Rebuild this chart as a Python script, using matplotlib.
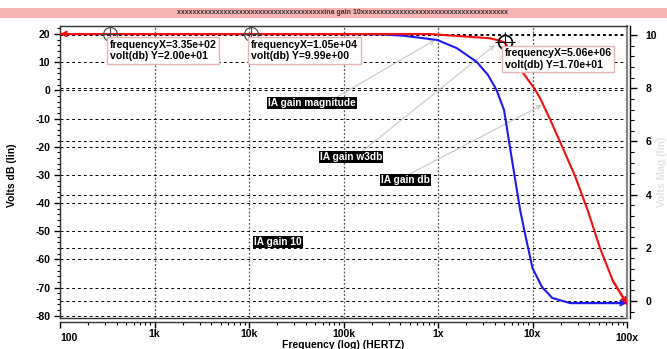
import matplotlib
matplotlib.use('Agg')
import matplotlib.pyplot as plt
import matplotlib.patches as mpatches
from matplotlib.ticker import MultipleLocator, LogLocator, NullFormatter

plt.rcParams['font.family'] = ['Liberation Sans', 'DejaVu Sans']
plt.rcParams['font.weight'] = 'bold'

# ---- data ----
blue_freq = [1e2, 1e5, 2.45e5, 4.27e5, 9.8e5, 1.58e6, 2.57e6, 3.39e6, 4.17e6, 5.0e6,
             6.0e6, 7.4e6, 8.3e6, 1.0e7, 1.26e7, 1.62e7, 2.5e7, 1e8]
blue_db = [20, 20, 19.9, 19.4, 17.9, 15.0, 10.1, 5.4, 0.1, -7.0,
           -23.7, -42.5, -50.6, -63.1, -69.8, -73.7, -75.5, -75.5]

red_freq = [1e2, 8.2e5, 3.55e6, 4.53e6, 5.06e6, 5.78e6, 7.94e6, 1.06e7, 1.2e7, 1.53e7,
            2.05e7, 2.82e7, 3.86e7, 5.18e7, 7.11e7, 1e8]
red_db = [20, 20, 18.5, 17.6, 17.0, 14.3, 6.2, 0.4, -2.7, -10.2,
          -19.8, -30.4, -42.8, -56.0, -67.7, -75.8]

marker_freq = [3.35e2, 1.05e4, 5.06e6]
marker_db = [20, 20, 17.0]
marker_text = ['frequencyX=3.35e+02\nvolt(db) Y=2.00e+01',
               'frequencyX=1.05e+04\nvolt(db) Y=9.99e+00',
               'frequencyX=5.06e+06\nvolt(db) Y=1.70e+01']

xticks = [1e2, 1e3, 1e4, 1e5, 1e6, 1e7, 1e8]
xticklabels = ['100', '1k', '10k', '100k', '1x', '10x', '100x']
yticks_left = list(range(-80, 21, 10))
yticks_right = [0, 2, 4, 6, 8, 10]

# curve labels: (text, label position, arrow tail, arrow head)
labels = [
    ('IA gain magnitude', (4.6e4, -4.5), (7.55e4, -3.4), (9.3e5, 17.9)),
    ('IA gain w3db', (1.2e5, -23.7), (1.5e5, -22.2), (4.0e6, 16.1)),
    ('IA gain db', (4.5e5, -31.8), (4.8e5, -30.0), (1.26e7, -5.2)),
    ('IA gain 10', (2.03e4, -53.8), None, None),
]

fig = plt.figure(figsize=(6.67, 3.49), dpi=100)
W, H = 667, 349
ax = fig.add_axes([60 / W, 1 - 318 / H, 567 / W, 292 / H])
ax2 = ax.twinx()
ax.set_zorder(ax2.get_zorder() + 1)
ax.patch.set_visible(False)

# title bar
fig.patches.append(mpatches.Rectangle((0, 1 - 18 / H), 1, 10 / H, transform=fig.transFigure,
                                      fc='#f5b3b3', ec='none'))
fig.text(0.514, 1 - 13 / H, 'x' * 38 + 'ina gain 10' + 'x' * 38, fontsize=5,
         ha='center', va='center', color='#333333')

ax.set_xscale('log')
ax.set_xlim(1e2, 1e8)
ax.set_ylim(-80.8, 22.85)
ax2.set_ylim(-0.64, 10.34)

# curves
ax.plot(blue_freq, blue_db, color='#1c1cf0', lw=1.5, zorder=3)
ax.plot(red_freq, red_db, color='#f01010', lw=1.5, zorder=4)
arrow_kw = dict(arrowstyle='->', lw=1.5, shrinkA=0, shrinkB=0, mutation_scale=8)
ax.annotate('', xy=(blue_freq[-1], blue_db[-1]), xytext=(blue_freq[-2], blue_db[-2]),
            arrowprops=dict(color='#1c1cf0', **arrow_kw), zorder=3, annotation_clip=False)
ax.annotate('', xy=(red_freq[-1], red_db[-1]), xytext=(red_freq[-2], red_db[-2]),
            arrowprops=dict(color='#f01010', **arrow_kw), zorder=4, annotation_clip=False)
ax.annotate('', xy=(red_freq[0], red_db[0]), xytext=(red_freq[1], red_db[1]),
            arrowprops=dict(color='#f01010', **arrow_kw), zorder=4, annotation_clip=False)

# markers
for i, (f, d, t) in enumerate(zip(marker_freq, marker_db, marker_text)):
    c = 'black' if i == 2 else '#444444'
    ax.plot(f, d, 'o', ms=10, mfc='none', mec=c, mew=1.2 if i == 2 else 0.8, zorder=6)
    ax.plot(f, d, '+', ms=15, mec=c, mew=0.8, zorder=6)
    ax.annotate(t, xy=(f, d), xytext=(0, -6), textcoords='offset pixels',
                ha='left', va='top', fontsize=7.6, linespacing=1.15, zorder=7,
                bbox=dict(boxstyle='square,pad=0.25', fc='white', ec='#e6b4b4', lw=1))

# curve labels
for text, pos, tail, head in labels:
    ax.text(pos[0], pos[1], text, color='white', fontsize=7.3, ha='center', va='center', zorder=8,
            bbox=dict(boxstyle='square,pad=0.1', fc='black', ec='none'))
    if head is not None:
        ax.annotate('', xy=head, xytext=tail, zorder=2,
                    arrowprops=dict(arrowstyle='->', color='#c8c8c8', lw=0.8,
                                    shrinkA=0, shrinkB=0, mutation_scale=8))

# ticks; the two end labels sit a little lower than the inner ones
ax.set_xticks(xticks)
ax.set_xticklabels([''] + xticklabels[1:-1] + [''])
for xv, lab, ha in [(xticks[0], xticklabels[0], 'left'), (xticks[-1], xticklabels[-1], 'center')]:
    ax.annotate(lab, xy=(xv, 0), xycoords=ax.get_xaxis_transform(), xytext=(0, -20),
                textcoords='offset pixels', ha=ha, va='center', fontsize=7.5,
                annotation_clip=False)
ax.xaxis.set_minor_locator(LogLocator(base=10, subs=range(2, 10)))
ax.xaxis.set_minor_formatter(NullFormatter())
ax.set_yticks(yticks_left)
ax.set_yticklabels([str(v) for v in yticks_left])
ax.yaxis.set_minor_locator(MultipleLocator(2))
ax2.set_yticks(yticks_right)
ax2.yaxis.set_minor_locator(MultipleLocator(0.4))

ax.tick_params(axis='x', which='major', direction='out', length=4.5, width=1, labelsize=7.5, pad=0.5)
ax.tick_params(axis='x', which='minor', direction='out', length=2.5, width=0.8)
ax.tick_params(axis='y', which='major', direction='out', length=4, width=1, labelsize=7.5, pad=3)
ax.tick_params(axis='y', which='minor', direction='out', length=2.5, width=0.8)
ax2.tick_params(axis='y', which='major', direction='out', length=5, width=1, labelsize=7.5, pad=6)
ax2.tick_params(axis='y', which='minor', direction='out', length=3, width=0.8)

# grids
ax.yaxis.grid(True, which='major', ls=(0, (3, 3)), color='black', lw=0.7)
ax.xaxis.grid(True, which='major', ls=(0, (1.5, 1.5)), color='#555555', lw=0.9)
ax2.yaxis.grid(True, which='major', ls=(0, (3, 3)), color='black', lw=0.7)

# frame
for s in ['left', 'top', 'bottom']:
    ax.spines[s].set_color('#333333')
    ax.spines[s].set_linewidth(1.0)
ax.spines['right'].set_color('#888888')
ax.spines['right'].set_linewidth(1.6)
ax.spines['bottom'].set_position(('outward', 3))
ax.plot([0, 1], [0, 0], transform=ax.transAxes, color='#333333', lw=1, clip_on=False)
for s in ['left', 'top', 'bottom']:
    ax2.spines[s].set_visible(False)
ax2.spines['right'].set_position(('outward', 2.5))
ax2.spines['right'].set_linewidth(1.0)

fig.text(12 / W, 1 - 175 / H, 'Volts dB (lin)', rotation=90, fontsize=7.5,
         ha='center', va='center')
fig.text(662 / W, 1 - 172 / H, 'Volts Mag (lin)', rotation=90, fontsize=7.5,
         ha='center', va='center', color='#e2e2e2')
fig.text(343 / W, 1 - 344.5 / H, 'Frequency (log) (HERTZ)', fontsize=7.5,
         ha='center', va='center')

fig.savefig('out.png', dpi=100)
